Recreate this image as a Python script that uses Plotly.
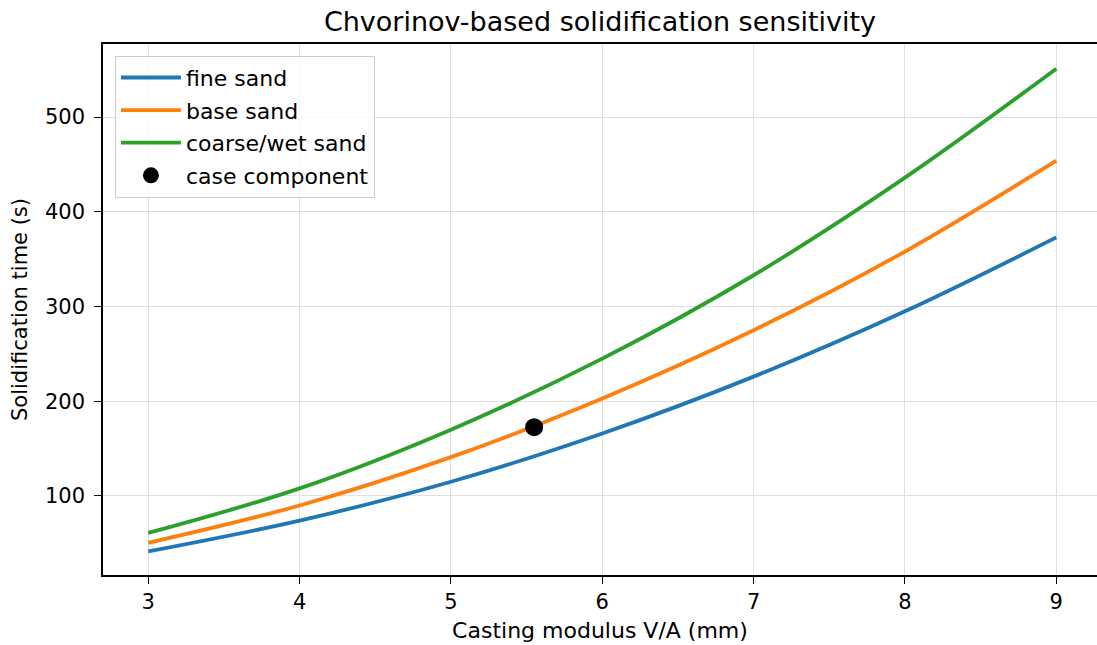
import plotly.graph_objects as go

# Casting modulus V/A (mm) sample positions
modulus = [3, 4, 5, 6, 7, 8, 9]

# Solidification time (s) for each mould sand condition
fine_sand = [41.5, 74, 115, 166, 226, 295, 373]
base_sand = [50.5, 90, 141, 203, 275, 358, 454]
coarse_wet_sand = [61, 108, 170, 245, 333, 436, 551]

# Highlighted component
case_modulus = [5.55]
case_time = [172.6]

FONT = "DejaVu Sans"

fig = go.Figure()

series = [
    ("fine sand", fine_sand, "#1f77b4"),
    ("base sand", base_sand, "#ff7f0e"),
    ("coarse/wet sand", coarse_wet_sand, "#2ca02c"),
]
for i, (name, vals, color) in enumerate(series):
    fig.add_trace(go.Scatter(
        x=modulus, y=vals, mode="lines", name=name,
        line=dict(color=color, width=3.8, shape="spline", smoothing=1.0),
        legendgroup=f"g{i}",
    ))

fig.add_trace(go.Scatter(
    x=case_modulus, y=case_time, mode="markers", name="case component",
    marker=dict(color="black", size=18),
    legendgroup="g3",
))

fig.update_layout(
    width=1097, height=645,
    margin=dict(l=103, r=0, t=44, b=70),
    paper_bgcolor="white", plot_bgcolor="white",
    font=dict(family=FONT, size=20, color="black"),
    title=dict(
        text="Chvorinov-based solidification sensitivity",
        font=dict(family=FONT, size=27, color="black"),
        xref="paper", x=0.5, xanchor="center",
        yref="container", y=1 - 22 / 645, yanchor="middle",
    ),
    showlegend=True,
    legend=dict(
        x=0.012, y=0.978, xanchor="left", yanchor="top",
        bgcolor="rgba(255,255,255,0.8)", bordercolor="#cccccc", borderwidth=1,
        font=dict(family=FONT, size=22, color="black"),
        traceorder="grouped", tracegroupgap=1, itemwidth=60,
    ),
)

fig.update_xaxes(
    range=[2.701, 9.269],
    tickvals=[3, 4, 5, 6, 7, 8, 9],
    showgrid=True, gridcolor="#e0e0e0", gridwidth=1,
    zeroline=False,
    showline=True, linecolor="black", linewidth=1.5, mirror=True,
    ticks="outside", ticklen=7, tickwidth=1.3, tickcolor="black",
    tickfont=dict(family=FONT, size=21, color="black"),
    title=dict(text="Casting modulus V/A (mm)", font=dict(family=FONT, size=22, color="black"), standoff=10),
)
fig.update_yaxes(
    range=[16.6, 577.1],
    tickvals=[100, 200, 300, 400, 500],
    showgrid=True, gridcolor="#e0e0e0", gridwidth=1,
    zeroline=False,
    showline=True, linecolor="black", linewidth=1.5, mirror=False,
    ticks="outside", ticklen=7, tickwidth=1.3, tickcolor="black",
    ticklabelstandoff=5,
    tickfont=dict(family=FONT, size=21, color="black"),
    title=dict(text="Solidification time (s)", font=dict(family=FONT, size=21, color="black"), standoff=12),
)

fig.write_html("out.html")
